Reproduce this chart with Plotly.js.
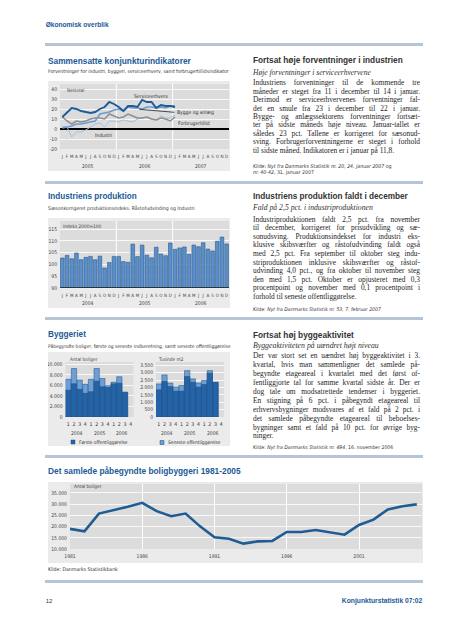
<!DOCTYPE html>
<html lang="da"><head><meta charset="utf-8">
<script src="https://cdn.plot.ly/plotly-3.0.1.min.js"></script>
<style>
html,body{margin:0;padding:0;}
body{width:452px;height:640px;background:#fff;position:relative;overflow:hidden;}
.t{position:absolute;white-space:nowrap;}
.sep{position:absolute;left:45px;width:378px;height:3px;background:#b5c4d7;}
.chart{position:absolute;}
</style></head><body>
<div class="sep" style="top:43px"></div>
<div class="sep" style="top:180.5px"></div>
<div class="sep" style="top:316.5px"></div>
<div class="sep" style="top:455px"></div>
<div class="sep" style="top:579.5px"></div>
<div id="c1" class="chart" style="left:48px;top:81px;width:182px;height:90px"></div>
<div id="c2" class="chart" style="left:48px;top:218px;width:182px;height:90px"></div>
<div id="c3" class="chart" style="left:48px;top:352px;width:182px;height:94px"></div>
<div id="c4" class="chart" style="left:48px;top:482px;width:375px;height:81px"></div>
<script>
// ---------------- DATA ----------------
const months = ["J","F","M","A","M","J","J","A","S","O","N","D"];
// Chart 1: Sammensatte konjunkturindikatorer (jan 2005 - jan 2007)
const indYears = ["2005","2006","2007"];
const indTicks = ["40","30","20","10","0","-10","-20"];
const indTickVals = [40,30,20,10,0,-10,-20];
const serviceerhverv = [12,17,21,20,18,17,16,17,20,22,27,25,22,18,23,23,22,29,27,27,21,24,23,23,22];
const byggeOgAnlaeg = [1,2,3,5,5,6,7,8,15,16,17,19,20,18,22,21,21,20,22,22,21,22,21,23,23];
const forbrugertillid = [12,8,5,8,7,8,10,11,11,10,15,13,11,12,15,13,11,11,12,10,9,11,10,8,12];
const industri = [3,2,-8,-3,-3,-1,2,5,6,2,8,8,7,9,8,7,10,11,12,10,9,13,11,11,14];
const indNames = ["Serviceerhverv","Bygge og anlæg","Forbrugertillid","Industri"];
// Chart 2: Industriens produktion (jan 2004 - dec 2006), indeks 2000=100
const prodYears = ["2004","2005","2006"];
const prodTicks = ["115","110","105","100","95","90"];
const prodTickVals = [115,110,105,100,95,90];
const produktion = [102.7,103.8,102.4,104.8,102.0,103.0,103.4,102.0,103.5,98.5,100.8,103.4,
                    103.4,101.2,100.9,108.6,103.3,108.2,103.9,102.8,107.3,104.4,103.7,109.1,
                    106.4,107.0,107.4,104.3,108.2,107.5,109.2,106.5,105.7,109.8,111.6,108.7];
// Chart 3: Byggeriet (kvartaler 2004K1 - 2006K4)
const quarters = ["1","2","3","4"];
const bygYears = ["2004","2005","2006"];
const boligTicks = ["10.000","8.000","6.000","4.000","2.000","0"];
const boligTickVals = [10000,8000,6000,4000,2000,0];
const arealTicks = ["3.500","3.000","2.500","2.000","1.500","1.000","500","0"];
const arealTickVals = [3500,3000,2500,2000,1500,1000,500,0];
const boligerFoerste = [5100,6300,5250,4500,4800,6800,5750,5600,6300,6400,4700,null];
const boligerSeneste = [7150,9200,7000,6200,7150,9200,7300,5950,6600,7650,4700,null];
const arealFoerste = [1840,2400,2060,1750,1750,2740,2350,2020,2200,2960,2350,null];
const arealSeneste = [2240,2850,2300,2020,2130,3140,2580,2300,2470,3140,2350,null];
// Chart 4: Det samlede påbegyndte boligbyggeri 1981-2005
const aar = [1981,1982,1983,1984,1985,1986,1987,1988,1989,1990,1991,1992,1993,1994,1995,1996,1997,1998,1999,2000,2001,2002,2003,2004,2005];
const boliger = [19000,17900,25800,27200,28800,30600,26900,24600,25800,20100,15200,14600,12400,13400,13600,17600,17600,18500,17600,16400,20700,23100,27600,29100,29900];
const aarTicks = ["1981","1986","1991","1996","2001"];
const aarTickVals = [1981,1986,1991,1996,2001];
const boligAarTicks = ["35.000","30.000","25.000","20.000","15.000","10.000"];
const boligAarTickVals = [35000,30000,25000,20000,15000,10000];

// ---------------- STYLE ----------------
const SANS = '"Liberation Sans", Arial, sans-serif';
const NARROW = '"Liberation Sans Narrow","DejaVu Sans Condensed","Liberation Sans",sans-serif';
const SERIF = '"Liberation Serif","Times New Roman",serif';
const BLUE = '#1b5a96';
const BOX = '#ebebeb', PLOT = '#dcdcdc';
const TICK = {family: NARROW, size: 5, color: '#444'};
const cfg = {staticPlot: true, displayModeBar: false};
const idx = n => Array.from({length: n}, (_, i) => i);
const monthAxis = {range: [-0.5, 35.5], tickvals: idx(36), ticktext: [].concat(months, months, months), tickangle: 0, showgrid: false, zeroline: false, ticks: '', tickfont: {family: NARROW, size: 4.5, color: '#444'}, ticklabelstandoff: 3, fixedrange: true};

// ---------------- CHART 1 ----------------
(function(){
  const x = idx(serviceerhverv.length);
  const tr = [
    {y: industri, color: '#a3c0e2', w: 1},
    {y: forbrugertillid, color: '#8e8e8e', w: 1.5},
    {y: byggeOgAnlaeg, color: '#6c9cd1', w: 1.6},
    {y: serviceerhverv, color: '#1e5b96', w: 1.9}
  ].map(s => ({x: x, y: s.y, type: 'scatter', mode: 'lines', line: {color: s.color, width: s.w}, hoverinfo: 'skip'}));
  const ann = indYears.map((t, i) => ({text: t, xref: 'x', yref: 'paper', x: 5.5 + 12*i, y: 0, yanchor: 'middle', yshift: -17, showarrow: false, font: {family: NARROW, size: 5, color: '#444'}}));
  const lab = (t, x, y, xa) => ({text: t, xref: 'x', yref: 'y', x: x, y: y, xanchor: xa, yanchor: 'middle', showarrow: false, font: {family: NARROW, size: 5, color: '#333'}});
  ann.push(lab(indNames[0], 18.9, 33, 'center'));
  ann.push(lab(indNames[1], 24.0, 16.3, 'left'));
  ann.push(lab(indNames[2], 24.2, 5.7, 'left'));
  ann.push(lab(indNames[3], 8.8, -6, 'center'));
  ann.push({text: 'Nettotal', xref: 'paper', yref: 'paper', x: 0, xshift: 5, xanchor: 'left', y: 1, yshift: -2, yanchor: 'top', showarrow: false, font: {family: NARROW, size: 4.8, color: '#444'}});
  Plotly.newPlot('c1', tr, {
    width: 182, height: 90, margin: {l: 12, r: 1, t: 3, b: 22, pad: 0},
    paper_bgcolor: BOX, plot_bgcolor: PLOT, showlegend: false,
    xaxis: monthAxis,
    yaxis: {range: [-20, 45], tickvals: indTickVals, ticktext: indTicks, gridcolor: '#ffffff', gridwidth: 0.8, zeroline: true, zerolinecolor: '#000', zerolinewidth: 1.1, ticks: '', tickfont: TICK, ticklabelstandoff: 2, fixedrange: true},
    shapes: [
      {type: 'line', xref: 'x', yref: 'paper', x0: 11.5, x1: 11.5, y0: 0, y1: 1, line: {color: '#fff', width: 1}, layer: 'below'},
      {type: 'line', xref: 'x', yref: 'paper', x0: 23.5, x1: 23.5, y0: 0, y1: 1, line: {color: '#fff', width: 1}, layer: 'below'},
      {type: 'line', xref: 'x', yref: 'y', x0: 16.4, y0: 19.7, x1: 23.85, y1: 16.7, line: {color: '#222', width: 0.8}}
    ],
    annotations: ann
  }, cfg);
})();

// ---------------- CHART 2 ----------------
(function(){
  const ann = prodYears.map((t, i) => ({text: t, xref: 'x', yref: 'paper', x: 5.5 + 12*i, y: 0, yanchor: 'middle', yshift: -14.5, showarrow: false, font: {family: NARROW, size: 5, color: '#444'}}));
  ann.push({text: 'Indeks 2000=100', xref: 'paper', yref: 'paper', x: 0, xshift: 1, xanchor: 'left', y: 1, yshift: -1, yanchor: 'top', showarrow: false, font: {family: NARROW, size: 4.8, color: '#444'}});
  Plotly.newPlot('c2', [{x: idx(produktion.length), y: produktion, type: 'bar', marker: {color: '#5b8fca', line: {color: '#2a5a8e', width: 0.6}}, hoverinfo: 'skip'}], {
    width: 182, height: 90, margin: {l: 12, r: 1, t: 3, b: 20, pad: 0},
    paper_bgcolor: BOX, plot_bgcolor: PLOT, showlegend: false, bargap: 0.22,
    xaxis: monthAxis,
    yaxis: {range: [90, 118.4], tickvals: prodTickVals, ticktext: prodTicks, gridcolor: '#fff', gridwidth: 0.8, zeroline: false, ticks: '', tickfont: TICK, ticklabelstandoff: 2},
    shapes: [
      {type: 'line', xref: 'x', yref: 'paper', x0: 11.5, x1: 11.5, y0: 0, y1: 1, line: {color: '#fff', width: 1}, layer: 'below'},
      {type: 'line', xref: 'x', yref: 'paper', x0: 23.5, x1: 23.5, y0: 0, y1: 1, line: {color: '#fff', width: 1}, layer: 'below'},
      {type: 'line', xref: 'paper', yref: 'y', x0: 0, x1: 1, y0: 90, y1: 90, line: {color: '#1a1a1a', width: 1.4}}
    ],
    annotations: ann
  }, cfg);
})();

// ---------------- CHART 3 ----------------
(function(){
  const x = idx(12);
  const qt = [].concat(quarters, quarters, quarters);
  const DARK = '#2463a6', LIGHT = '#6d9ed6', EDGE = '#1d4c82';
  const tr = [
    {x: x, y: boligerSeneste, type: 'bar', xaxis: 'x', yaxis: 'y', marker: {color: LIGHT, line: {color: EDGE, width: 0.5}}, hoverinfo: 'skip'},
    {x: x, y: boligerFoerste, type: 'bar', xaxis: 'x', yaxis: 'y', marker: {color: DARK, line: {color: EDGE, width: 0.5}}, hoverinfo: 'skip'},
    {x: x, y: arealSeneste, type: 'bar', xaxis: 'x2', yaxis: 'y2', marker: {color: LIGHT, line: {color: EDGE, width: 0.5}}, hoverinfo: 'skip'},
    {x: x, y: arealFoerste, type: 'bar', xaxis: 'x2', yaxis: 'y2', marker: {color: DARK, line: {color: EDGE, width: 0.5}}, hoverinfo: 'skip'}
  ];
  const xa = d => ({domain: d, range: [-0.5, 11.5], tickvals: x, ticktext: qt, tickangle: 0, showgrid: false, zeroline: false, ticks: '', tickfont: {family: NARROW, size: 5.2, color: '#333'}, ticklabelstandoff: 3});
  const ya = (r, tv, tt, anchor) => ({domain: [0, 1], range: r, tickvals: tv, ticktext: tt, gridcolor: '#fff', gridwidth: 0.8, zeroline: false, ticks: '', tickfont: TICK, ticklabelstandoff: 2, anchor: anchor});
  const ann = [];
  bygYears.forEach((t, i) => {
    ann.push({text: t, xref: 'x', yref: 'paper', x: 1.5 + 4*i, y: 0, yanchor: 'middle', yshift: -16, showarrow: false, font: {family: NARROW, size: 5, color: '#444'}});
    ann.push({text: t, xref: 'x2', yref: 'paper', x: 1.5 + 4*i, y: 0, yanchor: 'middle', yshift: -16, showarrow: false, font: {family: NARROW, size: 5, color: '#444'}});
  });
  ann.push({text: 'Antal boliger', xref: 'paper', yref: 'paper', x: 19.7/182, xanchor: 'left', y: 1, yshift: 3, yanchor: 'middle', showarrow: false, font: {family: NARROW, size: 4.8, color: '#444'}});
  ann.push({text: 'Tusinde m2', xref: 'paper', yref: 'paper', x: 107.7/182, xanchor: 'left', y: 1, yshift: 3, yanchor: 'middle', showarrow: false, font: {family: NARROW, size: 4.8, color: '#444'}});
  ann.push({text: 'Første offentliggørelse', xref: 'paper', yref: 'paper', x: 29/182, xanchor: 'left', y: 0, yshift: -25, yanchor: 'middle', showarrow: false, font: {family: NARROW, size: 4.8, color: '#333'}});
  ann.push({text: 'Seneste offentliggørelse', xref: 'paper', yref: 'paper', x: 118/182, xanchor: 'left', y: 0, yshift: -25.5, yanchor: 'middle', showarrow: false, font: {family: NARROW, size: 4.8, color: '#333'}});
  const sw = (x0, yc, fill) => ({type: 'rect', xref: 'paper', yref: 'paper', x0: x0/182, x1: (x0+4)/182, y0: -(yc+2)/55, y1: -(yc-2)/55, fillcolor: fill, line: {color: EDGE, width: 0.5}});
  Plotly.newPlot('c3', tr, {
    width: 182, height: 94, margin: {l: 0, r: 0, t: 10, b: 29, pad: 0},
    paper_bgcolor: BOX, plot_bgcolor: PLOT, showlegend: false, barmode: 'overlay', bargap: 0.06,
    xaxis: xa([17.5/182, 85.5/182]), xaxis2: xa([108/182, 176/182]),
    yaxis: ya([0, 10440], boligTickVals, boligTicks, 'x'), yaxis2: ya([0, 3723], arealTickVals, arealTicks, 'x2'),
    shapes: [sw(23, 25, DARK), sw(112, 25.5, LIGHT)],
    annotations: ann
  }, cfg);
})();

// ---------------- CHART 4 ----------------
(function(){
  Plotly.newPlot('c4', [{x: aar, y: boliger, type: 'scatter', mode: 'lines', line: {color: '#1f5b94', width: 2.6}, hoverinfo: 'skip'}], {
    width: 375, height: 81, margin: {l: 22, r: 1, t: 2, b: 14, pad: 0},
    paper_bgcolor: BOX, plot_bgcolor: PLOT, showlegend: false,
    xaxis: {range: [1981, 2005.36], tickvals: aarTickVals, ticktext: aarTicks, tickangle: 0, gridcolor: '#fff', gridwidth: 1, zeroline: false, ticks: '', tickfont: TICK, ticklabelstandoff: 3},
    yaxis: {range: [10000, 39000], tickvals: boligAarTickVals, ticktext: boligAarTicks, gridcolor: '#fff', gridwidth: 0.8, zeroline: false, ticks: '', tickfont: TICK, ticklabelstandoff: 2},
    annotations: [{text: 'Antal boliger', xref: 'paper', yref: 'paper', x: 0, xshift: 2, xanchor: 'left', y: 1, yshift: -2, yanchor: 'middle', showarrow: false, font: {family: NARROW, size: 4.8, color: '#444'}}]
  }, cfg);
})();

// ---------------- TEXT ----------------
function txt(s, x, y, size, o) {
  o = o || {};
  const d = document.createElement('div');
  d.className = 't';
  d.innerHTML = s;
  d.style.fontSize = size + 'px';
  d.style.fontFamily = o.fam || SANS;
  if (o.bold) d.style.fontWeight = 'bold';
  if (o.italic) d.style.fontStyle = 'italic';
  d.style.color = o.color || '#222';
  document.body.appendChild(d);
  if (o.w) { const w = d.getBoundingClientRect().width; size = size * o.w / w; d.style.fontSize = size + 'px'; }
  d.style.lineHeight = size + 'px';
  d.style.top = (y - size / 2) + 'px';
  if (o.right) d.style.left = (x - d.getBoundingClientRect().width) + 'px';
  else d.style.left = x + 'px';
  return d;
}
function jline(s, x, y, size, width, justify, o) {
  const d = txt(s, x, y, size, o);
  if (justify) {
    const w = d.getBoundingClientRect().width;
    const n = (s.match(/ /g) || []).length;
    if (n) d.style.wordSpacing = ((width - w) / n) + 'px';
  }
}
function block(lines, x, y0, dy, size, width) {
  lines.forEach((l, i) => jline(l, x, y0 + i * dy, size, width, i < lines.length - 1, {fam: SERIF, color: '#1e1e1e'}));
}

txt('Økonomisk overblik', 45.7, 25, 7, {bold: true, color: BLUE, w: 63});
txt('Sammensatte konjunkturindikatorer', 48, 61, 9, {bold: true, color: BLUE, w: 143});
txt('Forventninger for industri, byggeri, serviceerhverv, samt forbrugertillidsindikator', 48, 71.5, 5, {fam: NARROW, color: '#333', w: 181});
txt('Industriens produktion', 48, 197, 9, {bold: true, color: BLUE, w: 89});
txt('Sæsonkorrigeret produktionsindeks. Råstofudvinding og Industri', 48, 208.3, 5, {fam: NARROW, color: '#333', w: 147});
txt('Byggeriet', 48, 335, 9, {bold: true, color: BLUE, w: 38});
txt('Påbegyndte boliger, første og seneste indberetning, samt seneste offentliggørelse', 48, 346, 5, {fam: NARROW, color: '#333', w: 183});
txt('Det samlede påbegyndte boligbyggeri 1981-2005', 48, 471.5, 9, {bold: true, color: BLUE, w: 193});
txt('Kilde: Danmarks Statistikbank', 48, 570, 5, {fam: NARROW, color: '#333', w: 70});
txt('12', 45.7, 601, 6, {color: '#333'});
txt('Konjunkturstatistik 07:02', 422.3, 601, 7, {bold: true, color: BLUE, w: 80.6, right: true});

const RX = 253, RW = 167, BS = 7.4;
txt('Fortsat høje forventninger i industrien', RX, 60.7, 8.5, {bold: true, color: '#333', w: 150});
txt('Høje forventninger i serviceerhvervene', RX, 72.3, 8, {fam: SERIF, italic: true, color: '#333', w: 118});
block([
  'Industriens forventninger til de kommende tre',
  'måneder er steget fra 11 i december til 14 i januar.',
  'Derimod er serviceerhvervenes forventninger fal-',
  'det en smule fra 23 i december til 22 i januar.',
  'Bygge- og anlægssektorens forventninger fortsæt-',
  'ter på sidste måneds høje niveau. Januar-tallet er',
  'således 23 pct. Tallene er korrigeret for sæsonud-',
  'sving. Forbrugerforventningerne er steget i forhold',
  'til sidste måned. Indikatoren er i januar på 11,8.'
], RX, 83, 8.4, BS, RW);
jline('Kilde: <i>Nyt fra Danmarks Statistik nr. 20, 24. januar 2007</i> og', RX, 166.5, 5.2, RW, false, {fam: NARROW, color: '#333'});
txt('<i>nr. 40-42</i>, 31. januar 2007', RX, 172.8, 5.2, {fam: NARROW, color: '#333'});

txt('Industriens produktion faldt i december', RX, 196.7, 8.5, {bold: true, color: '#333', w: 155});
txt('Fald på 2,5 pct. i industriproduktionen', RX, 208, 8, {fam: SERIF, italic: true, color: '#333', w: 120});
block([
  'Industriproduktionen faldt 2,5 pct. fra november',
  'til december, korrigeret for prisudvikling og sæ-',
  'sonudsving. Produktionsindekset for industri eks-',
  'klusive skibsværfter og råstofudvinding faldt også',
  'med 2,5 pct. Fra september til oktober steg indu-',
  'striproduktionen inklusive skibsværfter og råstof-',
  'udvinding 4,0 pct., og fra oktober til november steg',
  'den med 1,5 pct. Oktober er opjusteret med 0,3',
  'procentpoint og november med 0,1 procentpoint i',
  'forhold til seneste offentliggørelse.'
], RX, 219.3, 8.6, BS, RW);
txt('Kilde: <i>Nyt fra Danmarks Statistik nr. 53, 7. februar 2007</i>', RX, 310, 5.2, {fam: NARROW, color: '#333', w: 128});

txt('Fortsat høj byggeaktivitet', RX, 335, 8.5, {bold: true, color: '#333', w: 101});
txt('Byggeaktiviteten på uændret højt niveau', RX, 346, 8, {fam: SERIF, italic: true, color: '#333', w: 126});
block([
  'Der var stort set en uændret høj byggeaktivitet i 3.',
  'kvartal, hvis man sammenligner det samlede på-',
  'begyndte etageareal i kvartalet med det først of-',
  'fentliggjorte tal for samme kvartal sidste år. Der er',
  'dog tale om modsatrettede tendenser i byggeriet.',
  'En stigning på 6 pct. i påbegyndt etageareal til',
  'erhvervsbygninger modsvares af et fald på 2 pct. i',
  'det samlede påbegyndte etageareal til beboelses-',
  'bygninger samt et fald på 10 pct. for øvrige byg-',
  'ninger.'
], RX, 356, 8.9, BS, RW);
txt('Kilde: <i>Nyt fra Danmarks Statistik nr. 494</i>, 16. november 2006', RX, 447.5, 5.2, {fam: NARROW, color: '#333', w: 140});
</script>
</body></html>
